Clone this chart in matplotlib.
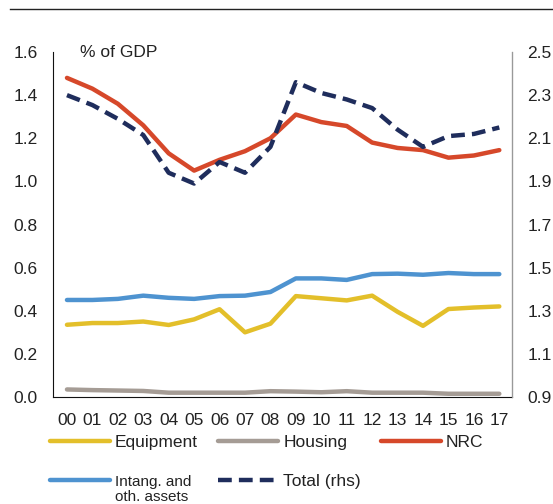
import matplotlib.pyplot as plt
from matplotlib.lines import Line2D

years = ['00', '01', '02', '03', '04', '05', '06', '07', '08',
         '09', '10', '11', '12', '13', '14', '15', '16', '17']

equipment = [0.335, 0.343, 0.343, 0.350, 0.334, 0.360, 0.407, 0.300, 0.340,
             0.468, 0.458, 0.448, 0.470, 0.395, 0.330, 0.408, 0.415, 0.420]
housing = [0.035, 0.032, 0.030, 0.028, 0.020, 0.020, 0.020, 0.020, 0.027,
           0.025, 0.022, 0.027, 0.020, 0.020, 0.020, 0.015, 0.015, 0.015]
nrc = [1.48, 1.43, 1.36, 1.26, 1.13, 1.05, 1.10, 1.14, 1.20,
       1.31, 1.275, 1.257, 1.18, 1.155, 1.145, 1.11, 1.12, 1.145]
intang = [0.450, 0.450, 0.455, 0.470, 0.460, 0.455, 0.468, 0.470, 0.487,
          0.550, 0.550, 0.543, 0.570, 0.572, 0.567, 0.575, 0.570, 0.570]
total = [2.30, 2.254, 2.19, 2.115, 1.94, 1.89, 1.99, 1.94, 2.06,
         2.36, 2.31, 2.28, 2.24, 2.14, 2.06, 2.11, 2.12, 2.15]

c_equip = '#E3BF2A'
c_house = '#A59C95'
c_nrc = '#D6482A'
c_intang = '#4E93D0'
c_total = '#1F2D5C'

plt.rcParams['font.family'] = ['Liberation Sans', 'DejaVu Sans']
fs = 12.5

fig = plt.figure(figsize=(5.53, 5.04), dpi=100)
ax = fig.add_axes([0.0958, 0.2123, 0.8301, 0.6845])
ax2 = ax.twinx()

x = list(range(len(years)))
lw = 3.2
l1, = ax.plot(x, equipment, color=c_equip, lw=lw, solid_capstyle='round')
l2, = ax.plot(x, housing, color=c_house, lw=lw, solid_capstyle='round')
l3, = ax.plot(x, nrc, color=c_nrc, lw=lw, solid_capstyle='round')
l4, = ax.plot(x, intang, color=c_intang, lw=lw, solid_capstyle='round')
l5, = ax2.plot(x, total, color=c_total, lw=lw, ls=(0, (3.1, 1.6)))

ax.set_xlim(-0.55, 17.5)
ax.set_ylim(0, 1.6)
ax2.set_ylim(0.9, 2.5)
ax.set_yticks([0, 0.2, 0.4, 0.6, 0.8, 1.0, 1.2, 1.4, 1.6])
ax.set_yticklabels(['%.1f' % v for v in ax.get_yticks()])
ax2.set_yticks([0.9, 1.1, 1.3, 1.5, 1.7, 1.9, 2.1, 2.3, 2.5])
ax2.set_yticklabels(['%.1f' % v for v in ax2.get_yticks()])
ax.set_xticks(x)
ax.set_xticklabels(years)

for a in (ax, ax2):
    a.spines['top'].set_visible(False)
    a.tick_params(length=0, labelsize=fs, colors='#222222')
ax.tick_params(axis='y', pad=11)
ax.tick_params(axis='x', pad=11.5)
ax2.tick_params(axis='y', pad=11)
ax.spines['left'].set_color('#111111')
ax.spines['bottom'].set_color('#111111')
ax2.spines['right'].set_color('#999999')
ax2.spines['left'].set_visible(False)
ax2.spines['bottom'].set_visible(False)

ax.text(0.059, 1.0, '% of GDP', transform=ax.transAxes, va='center', ha='left',
        fontsize=fs, color='#222222')

fig.add_artist(Line2D([0.018, 1.0], [0.982, 0.982], color='#222222', lw=1))

leg = fig.legend([l1, l4, l2, l5, l3],
                 ['Equipment', 'Intang. and', 'Housing', 'Total (rhs)', 'NRC'],
                 ncol=3, loc='upper left', bbox_to_anchor=(0.0904, 0.137), frameon=False,
                 handlelength=3.45, handletextpad=0.3, columnspacing=1.15, labelspacing=1.35,
                 borderpad=0, borderaxespad=0, fontsize=fs)
for t in leg.get_texts():
    t.set_color('#222222')
leg.get_texts()[1].set_fontsize(11)

# second line of the intangibles label, placed under the first
fig.canvas.draw()
bb = leg.get_texts()[1].get_window_extent().transformed(fig.transFigure.inverted())
fig.text(bb.x0, bb.y0 - 0.002, 'oth. assets', fontsize=11, color='#222222',
         ha='left', va='top')

fig.savefig('out.png', dpi=100)
